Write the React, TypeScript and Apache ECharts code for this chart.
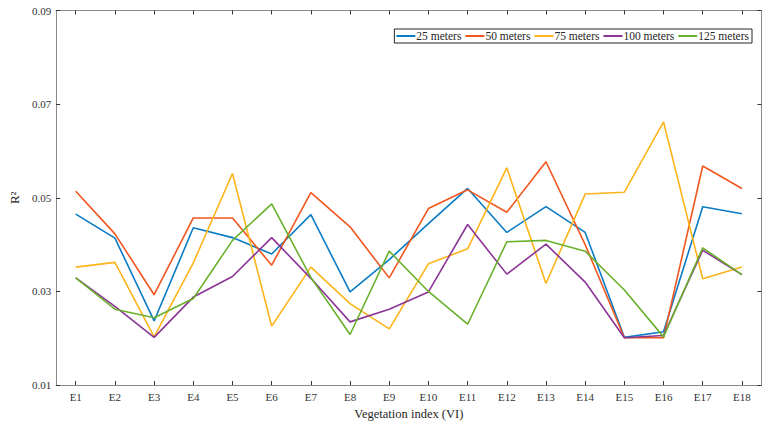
import React, { useEffect, useRef } from "react";
import * as echarts from "echarts";

const categories = ["E1","E2","E3","E4","E5","E6","E7","E8","E9","E10","E11","E12","E13","E14","E15","E16","E17","E18"];
const yTicks = [0.01, 0.03, 0.05, 0.07, 0.09];

const m25 = [0.0465,0.0414,0.0237,0.0436,0.0415,0.0380,0.0464,0.0299,0.0368,0.0445,0.0520,0.0426,0.0481,0.0426,0.0202,0.0214,0.0481,0.0466];
const m50 = [0.0514,0.0423,0.0293,0.0457,0.0457,0.0356,0.0511,0.0438,0.0329,0.0477,0.0517,0.0469,0.0577,0.0400,0.0201,0.0201,0.0568,0.0520];
const m75 = [0.0352,0.0362,0.0203,0.0361,0.0552,0.0226,0.0352,0.0274,0.0220,0.0359,0.0391,0.0564,0.0317,0.0508,0.0512,0.0662,0.0327,0.0352];
const m100 = [0.0329,0.0268,0.0202,0.0288,0.0332,0.0415,0.0328,0.0235,0.0262,0.0299,0.0443,0.0337,0.0401,0.0320,0.0201,0.0206,0.0388,0.0336];
const m125 = [0.0329,0.0262,0.0244,0.0285,0.0409,0.0487,0.0330,0.0208,0.0386,0.0300,0.0230,0.0406,0.0409,0.0386,0.0303,0.0203,0.0393,0.0336];

const seriesNames = ["25 meters","50 meters","75 meters","100 meters","125 meters"];
const seriesData = [m25, m50, m75, m100, m125];
const colors = ["#0a7bc4", "#f1561f", "#fdb41a", "#8b3596", "#69b12c"];

const FONT = "'Liberation Serif', 'Times New Roman', serif";

export default function App() {
  const ref = useRef<HTMLDivElement>(null);
  useEffect(() => {
    if (!ref.current) return;
    const chart = echarts.init(ref.current, undefined, { renderer: "svg" });
    const axisLine = { show: true, lineStyle: { color: "#8a8a8a", width: 1 } };
    const tick = { show: true, inside: true, length: 4, lineStyle: { color: "#333", width: 1 } };
    chart.setOption({
      animation: false,
      backgroundColor: "#ffffff",
      textStyle: { fontFamily: FONT },
      grid: { left: 48.5, right: 10.5, top: 10.5, bottom: 39 },
      legend: {
        data: seriesNames.map((n, i) => ({ name: n, itemStyle: { color: colors[i] } })),
        right: 20,
        top: 29,
        icon: "rect",
        itemWidth: 19,
        itemHeight: 2,
        itemGap: 4,
        padding: [1, 3, 1, 2],
        borderColor: "#262626",
        borderWidth: 1,
        backgroundColor: "#fff",
        textStyle: { fontFamily: FONT, fontSize: 11.5, color: "#262626", padding: [0, 0, 0, -4] },
      },
      xAxis: [
        {
          type: "category",
          data: categories,
          position: "bottom",
          boundaryGap: true,
          axisLine,
          axisTick: { ...tick, alignWithLabel: true },
          axisLabel: { fontFamily: FONT, fontSize: 11, color: "#333", margin: 6 },
          splitLine: { show: false },
          name: "Vegetation index (VI)",
          nameLocation: "middle",
          nameGap: 17,
          nameTextStyle: { fontFamily: FONT, fontSize: 12.5, color: "#262626" },
        },
        {
          type: "category",
          data: categories,
          position: "top",
          boundaryGap: true,
          axisLine,
          axisTick: { ...tick, alignWithLabel: true },
          axisLabel: { show: false },
          splitLine: { show: false },
        },
      ],
      yAxis: [
        {
          type: "value",
          min: yTicks[0],
          max: yTicks[yTicks.length - 1],
          interval: 0.02,
          position: "left",
          axisLine,
          axisTick: tick,
          axisLabel: { fontFamily: FONT, fontSize: 11, color: "#333", margin: 5, formatter: (v: number) => v.toFixed(2) },
          splitLine: { show: false },
          name: "R²",
          nameLocation: "middle",
          nameRotate: 90,
          nameGap: 29,
          nameTextStyle: { fontFamily: FONT, fontSize: 13, color: "#262626" },
        },
        {
          type: "value",
          min: yTicks[0],
          max: yTicks[yTicks.length - 1],
          interval: 0.02,
          position: "right",
          axisLine,
          axisTick: tick,
          axisLabel: { show: false },
          splitLine: { show: false },
        },
      ],
      series: seriesNames.map((name, i) => ({
        name,
        type: "line",
        data: seriesData[i],
        xAxisIndex: 0,
        yAxisIndex: 0,
        symbol: "none",
        showSymbol: false,
        lineStyle: { color: colors[i], width: 1.6 },
        itemStyle: { color: colors[i] },
        z: 2 + i,
      })),
    });
    return () => chart.dispose();
  }, []);
  return <div ref={ref} style={{ width: 772, height: 425, position: "absolute", left: 0, top: 0 }} />;
}
